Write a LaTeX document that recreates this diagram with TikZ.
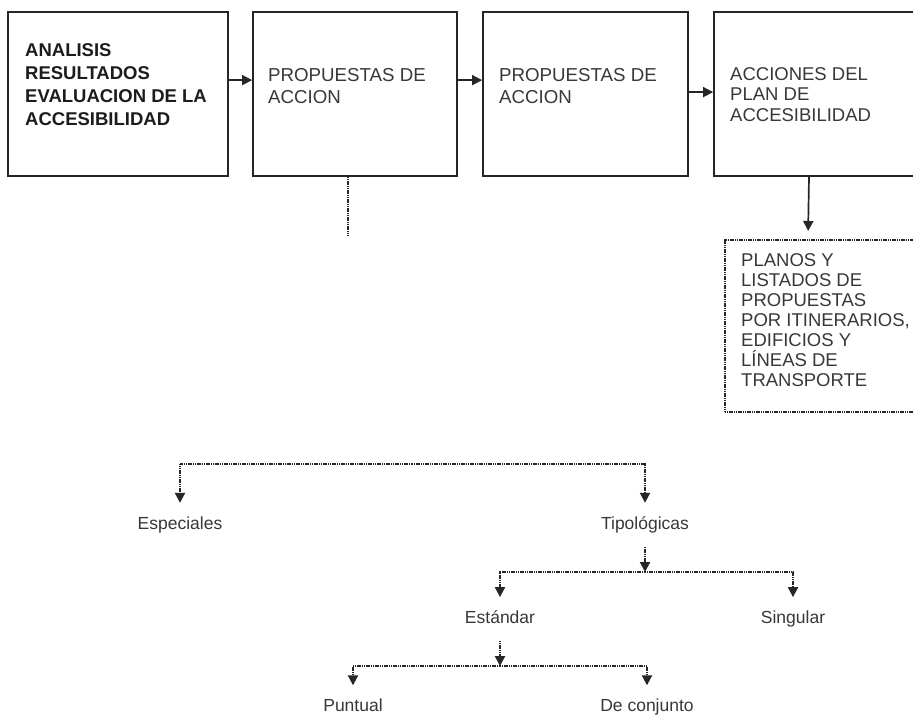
\documentclass[tikz,border=0pt]{standalone}
\usepackage{fontspec}
\setmainfont{Liberation Sans}
\usetikzlibrary{arrows.meta,calc}
\definecolor{ln}{HTML}{262626}
\definecolor{tx}{HTML}{383838}
\definecolor{bk}{HTML}{1C1C1C}
\begin{document}
\begin{tikzpicture}[x=1pt,y=-1pt,
  box/.style={draw=ln, line width=1.8pt, rectangle, inner sep=0pt},
  dotbox/.style={draw=ln, line width=2pt, dash pattern=on 1.2pt off 0.6pt, rectangle, inner sep=0pt},
  btxt/.style={anchor=north west, inner sep=0pt, align=left, text=tx},
  arr/.style={draw=ln, line width=1.7pt, -{Triangle[length=10pt,width=10pt]}},
  dl/.style={draw=ln, line width=2pt, dash pattern=on 1.2pt off 0.6pt},
  darr/.style={dl, -{Triangle[length=10pt,width=10pt]}},
  lbl/.style={anchor=base, inner xsep=0pt, inner ysep=13.5pt, text height=12.5pt, text depth=4pt, text=tx, font=\fontsize{17.5}{20}\selectfont}
]
\useasboundingbox (0,0) rectangle (913,716);
\fill[white] (0,0) rectangle (913,716);

% top boxes
\node[box, minimum width=220pt, minimum height=164pt] (b1) at (118,94) {};
\node[box, minimum width=204pt, minimum height=164pt] (b2) at (355,94) {};
\node[box, minimum width=205pt, minimum height=164pt] (b3) at (585.5,94) {};
\node[box, minimum width=205pt, minimum height=164pt] (b4) at (816.5,94) {};
\node[dotbox, minimum width=195pt, minimum height=172pt] (pl) at (822.5,326) {};

% texts
\node[btxt, text=bk, font=\fontsize{18.5}{23}\selectfont\bfseries] (t1) at (25,43.4)
  {ANALISIS\\RESULTADOS\\EVALUACION DE LA\\ACCESIBILIDAD};
\node[btxt, font=\fontsize{18.7}{22}\selectfont] (t2) at (268,67.9) {PROPUESTAS DE\\ACCION};
\node[btxt, font=\fontsize{18.7}{22}\selectfont] (t3) at (499,67.9) {PROPUESTAS DE\\ACCION};
\node[btxt, font=\fontsize{18.5}{20.8}\selectfont] (t4) at (730,66.9) {ACCIONES DEL\\PLAN DE\\ACCESIBILIDAD};
\node[btxt, font=\fontsize{18.5}{20}\selectfont] (tp) at (741,253.4)
  {PLANOS Y\\LISTADOS DE\\PROPUESTAS\\POR ITINERARIOS,\\EDIFICIOS Y\\LÍNEAS DE\\TRANSPORTE};

% top arrows
\draw[arr] ($(b1.north east)+(0,69)$) -- ($(b2.north west)+(0,69)$);
\draw[arr] ($(b2.north east)+(0,69)$) -- ($(b3.north west)+(0,69)$);
\draw[arr] ($(b3.north east)+(0,81)$) -- ($(b4.north west)+(0,81)$);
\coordinate (e2) at (348,236);
\draw[dl] ($(b2.south)+(-7,0)$) -- (e2);
\draw[arr, shorten >=8pt] ($(b4.south)+(-7.5,0)$) -- ($(pl.north west)+(84,0)$);

% lower tree
\node[lbl] (esp) at (180,529) {Especiales};
\node[lbl] (tip) at (645,529) {Tipológicas};
\node[lbl] (est) at (500,623.3) {Estándar};
\node[lbl] (sing) at (793,623.3) {Singular};
\node[lbl] (pun) at (353,711.5) {Puntual};
\node[lbl] (dec) at (647,711.5) {De conjunto};

\coordinate (k1) at (412,464);
\draw[darr] (k1) -| (esp.north);
\draw[darr] (k1) -| (tip.north);

\coordinate (k2) at (645,572);
\draw[darr] (tip.south) -- (k2);
\draw[darr] (k2) -| (est.north);
\draw[darr] (k2) -| (sing.north);

\coordinate (k3) at (500,666);
\draw[darr] (est.south) -- (k3);
\draw[darr] (k3) -| (pun.north);
\draw[darr] (k3) -| (dec.north);
\end{tikzpicture}
\end{document}
